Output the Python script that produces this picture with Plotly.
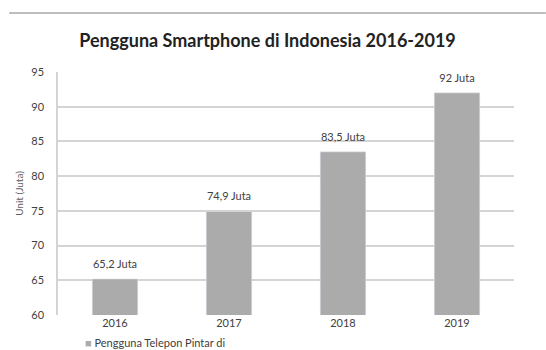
import plotly.graph_objects as go

years = ["2016", "2017", "2018", "2019"]
users = [65.2, 74.9, 83.5, 92]
labels = ["65,2 Juta", "74,9 Juta", "83,5 Juta", "92 Juta"]
y_ticks = [60, 65, 70, 75, 80, 85, 90, 95]

fig = go.Figure()
fig.add_trace(go.Bar(
    x=years, y=users, marker_color="#ababab",
    name="Pengguna Telepon Pintar di Indonesia", showlegend=False,
))
fig.add_trace(go.Scatter(
    x=years, y=users, mode="text+markers", text=labels, textposition="top center",
    marker=dict(size=12, color="rgba(0,0,0,0)"),
    textfont=dict(family="Lato", size=11, color="#404040"), cliponaxis=False,
    showlegend=False, hoverinfo="skip",
))

fig.add_annotation(xref="paper", yref="paper", x=0.055, y=-0.078, xanchor="left", yanchor="top",
                   text="<span style='color:#ababab'>■</span> Pengguna Telepon Pintar di",
                   showarrow=False, font=dict(family="Lato", size=11, color="#404040"))

fig.add_shape(type="line", xref="paper", yref="paper", x0=-0.107, x1=1.07, y0=1.243, y1=1.243,
              line=dict(color="#a8a8a8", width=1.5))

fig.update_layout(
    width=546, height=350, margin=dict(l=58, r=32, t=72, b=35),
    paper_bgcolor="white", plot_bgcolor="white",
    title=dict(text="<b>Pengguna Smartphone di Indonesia 2016-2019</b>", x=0.49, xanchor="center",
               y=0.885, yanchor="middle", font=dict(family="Lato", size=18, color="#222222")),
    bargap=0.6,
)
fig.update_xaxes(type="category", showline=False, ticks="",
                 tickfont=dict(family="Lato", size=11, color="#404040"))
fig.update_yaxes(range=[60, 95], tickvals=y_ticks, showgrid=True, gridcolor="#d4d4d4", gridwidth=1.5,
                 showline=True, linecolor="#d4d4d4", linewidth=1.5, zeroline=False,
                 ticks="outside", ticklen=10, tickcolor="rgba(0,0,0,0)",
                 tickfont=dict(family="Lato", size=11, color="#404040"),
                 title=dict(text="Unit (Juta)", font=dict(family="Lato", size=10, color="#606060"), standoff=6))
fig.write_html("out.html")
